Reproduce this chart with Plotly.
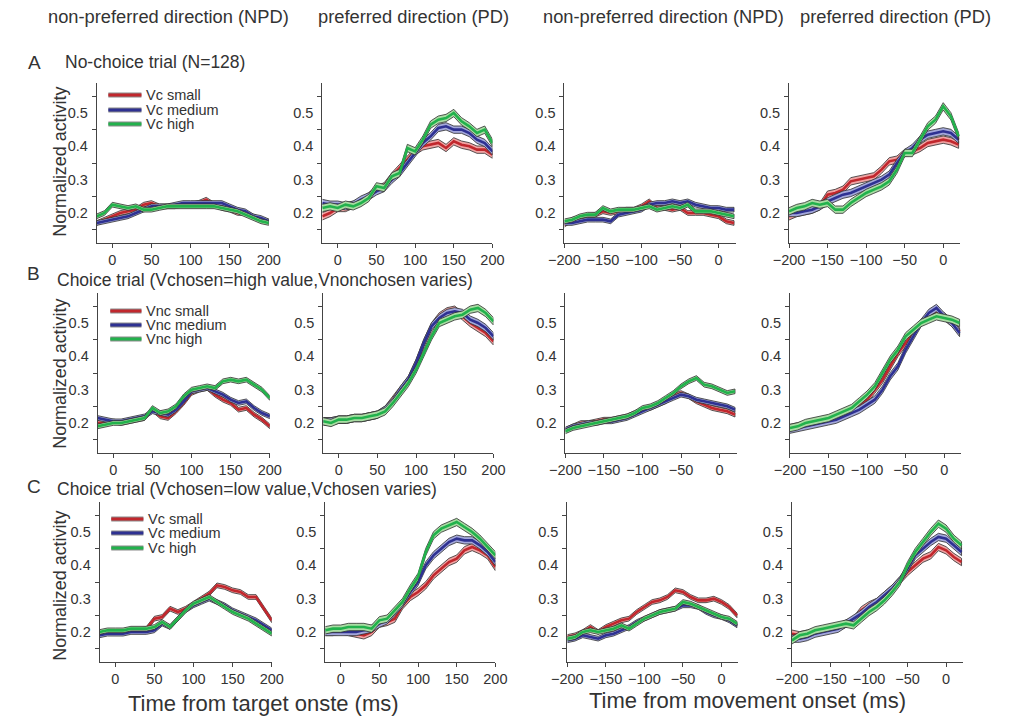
import plotly.graph_objects as go

W, H = 1013, 721

# ---- time axes (ms) ----
t_target = [-20, -10, 0, 10, 20, 30, 40, 50, 60, 70, 80, 90, 100,
            110, 120, 130, 140, 150, 160, 170, 180, 190, 200]
t_move = [-200, -190, -180, -170, -160, -150, -140, -130, -120, -110, -100,
          -90, -80, -70, -60, -50, -40, -30, -20, -10, 0, 10, 20]

x_ticks_target = [0, 50, 100, 150, 200]
x_ticks_move = [-200, -150, -100, -50, 0]
y_ticks = [0.2, 0.3, 0.4, 0.5]
y_ticks_minor = [0.15, 0.25, 0.35, 0.45, 0.55]

# ---- A: no-choice trials ----
A_tgt_npd_small = [0.17, 0.18, 0.19, 0.2, 0.205, 0.21, 0.225, 0.23, 0.22, 0.22, 0.22, 0.225,
                   0.225, 0.23, 0.24, 0.225, 0.215, 0.21, 0.2, 0.2, 0.19, 0.18, 0.175]
A_tgt_npd_medium = [0.17, 0.175, 0.18, 0.185, 0.19, 0.2, 0.21, 0.22, 0.22, 0.22, 0.225, 0.23,
                    0.23, 0.23, 0.23, 0.23, 0.23, 0.22, 0.21, 0.205, 0.19, 0.185, 0.175]
A_tgt_npd_high = [0.19, 0.2, 0.225, 0.22, 0.215, 0.22, 0.21, 0.21, 0.215, 0.22, 0.22, 0.22,
                  0.22, 0.22, 0.22, 0.22, 0.215, 0.21, 0.205, 0.195, 0.185, 0.175, 0.17]

A_tgt_pd_small = [0.19, 0.2, 0.215, 0.215, 0.225, 0.235, 0.25, 0.27, 0.28, 0.31, 0.335, 0.36,
                  0.385, 0.4, 0.405, 0.41, 0.395, 0.415, 0.405, 0.4, 0.39, 0.39, 0.375]
A_tgt_pd_medium = [0.23, 0.225, 0.225, 0.22, 0.225, 0.24, 0.25, 0.265, 0.275, 0.3, 0.32, 0.35,
                   0.38, 0.41, 0.43, 0.455, 0.46, 0.45, 0.45, 0.44, 0.42, 0.41, 0.385]
A_tgt_pd_high = [0.215, 0.22, 0.215, 0.225, 0.22, 0.23, 0.245, 0.28, 0.275, 0.31, 0.32, 0.395,
                 0.385, 0.42, 0.465, 0.48, 0.485, 0.5, 0.475, 0.46, 0.44, 0.45, 0.41]

A_mov_npd_small = [0.165, 0.18, 0.185, 0.19, 0.195, 0.205, 0.2, 0.205, 0.21, 0.21, 0.22, 0.235,
                   0.215, 0.215, 0.21, 0.215, 0.2, 0.2, 0.2, 0.195, 0.19, 0.175, 0.17]
A_mov_npd_medium = [0.17, 0.17, 0.175, 0.18, 0.18, 0.18, 0.175, 0.195, 0.2, 0.205, 0.21, 0.225,
                    0.23, 0.23, 0.235, 0.23, 0.235, 0.225, 0.22, 0.215, 0.215, 0.21, 0.21]
A_mov_npd_high = [0.175, 0.18, 0.19, 0.195, 0.195, 0.215, 0.205, 0.21, 0.21, 0.21, 0.215, 0.22,
                  0.21, 0.215, 0.22, 0.215, 0.225, 0.205, 0.205, 0.205, 0.2, 0.195, 0.19]

A_mov_pd_small = [0.19, 0.2, 0.205, 0.21, 0.22, 0.255, 0.26, 0.27, 0.295, 0.3, 0.305, 0.31,
                  0.33, 0.355, 0.36, 0.38, 0.385, 0.395, 0.41, 0.415, 0.42, 0.415, 0.405]
A_mov_pd_medium = [0.2, 0.2, 0.205, 0.21, 0.22, 0.235, 0.245, 0.255, 0.26, 0.27, 0.28, 0.29,
                   0.3, 0.315, 0.35, 0.38, 0.395, 0.42, 0.435, 0.44, 0.445, 0.44, 0.42]
A_mov_pd_high = [0.205, 0.215, 0.22, 0.23, 0.225, 0.23, 0.21, 0.21, 0.23, 0.245, 0.26, 0.27,
                 0.28, 0.295, 0.33, 0.38, 0.38, 0.42, 0.46, 0.48, 0.52, 0.49, 0.43]

# ---- B: choice trials, chosen value high ----
B_tgt_npd_small = [0.2, 0.2, 0.205, 0.2, 0.205, 0.21, 0.215, 0.24, 0.22, 0.215, 0.235, 0.26,
                   0.29, 0.3, 0.305, 0.285, 0.27, 0.26, 0.24, 0.245, 0.225, 0.21, 0.19]
B_tgt_npd_medium = [0.215, 0.21, 0.205, 0.205, 0.21, 0.215, 0.22, 0.235, 0.23, 0.225, 0.24, 0.265,
                    0.295, 0.3, 0.305, 0.295, 0.285, 0.27, 0.26, 0.265, 0.245, 0.23, 0.22]
B_tgt_npd_high = [0.19, 0.195, 0.2, 0.2, 0.205, 0.21, 0.215, 0.245, 0.23, 0.235, 0.25, 0.28,
                  0.3, 0.305, 0.31, 0.305, 0.325, 0.33, 0.325, 0.33, 0.315, 0.3, 0.275]

B_tgt_pd_small = [0.205, 0.205, 0.21, 0.21, 0.215, 0.215, 0.22, 0.225, 0.24, 0.27, 0.3, 0.33,
                  0.38, 0.44, 0.49, 0.52, 0.535, 0.54, 0.52, 0.5, 0.485, 0.47, 0.445]
B_tgt_pd_medium = [0.205, 0.205, 0.21, 0.21, 0.215, 0.215, 0.22, 0.225, 0.24, 0.265, 0.3, 0.33,
                   0.38, 0.44, 0.49, 0.515, 0.53, 0.535, 0.53, 0.51, 0.5, 0.485, 0.46]
B_tgt_pd_high = [0.205, 0.2, 0.21, 0.21, 0.215, 0.215, 0.22, 0.225, 0.235, 0.26, 0.29, 0.32,
                 0.36, 0.41, 0.46, 0.5, 0.51, 0.52, 0.525, 0.54, 0.545, 0.53, 0.505]

B_mov_npd_small = [0.18, 0.19, 0.2, 0.2, 0.205, 0.21, 0.21, 0.215, 0.22, 0.23, 0.24, 0.245,
                   0.255, 0.265, 0.28, 0.29, 0.28, 0.265, 0.255, 0.245, 0.24, 0.235, 0.225]
B_mov_npd_medium = [0.18, 0.19, 0.195, 0.2, 0.2, 0.205, 0.205, 0.21, 0.215, 0.225, 0.235, 0.245,
                    0.255, 0.265, 0.275, 0.285, 0.28, 0.27, 0.265, 0.26, 0.255, 0.25, 0.24]
B_mov_npd_high = [0.175, 0.185, 0.19, 0.195, 0.2, 0.205, 0.21, 0.215, 0.22, 0.23, 0.245, 0.25,
                  0.26, 0.275, 0.29, 0.31, 0.325, 0.335, 0.315, 0.31, 0.3, 0.29, 0.295]

B_mov_pd_small = [0.185, 0.19, 0.195, 0.2, 0.205, 0.21, 0.22, 0.23, 0.24, 0.255, 0.27, 0.3,
                  0.33, 0.37, 0.41, 0.44, 0.47, 0.5, 0.52, 0.53, 0.52, 0.5, 0.475]
B_mov_pd_medium = [0.18, 0.185, 0.19, 0.195, 0.2, 0.205, 0.21, 0.22, 0.23, 0.24, 0.255, 0.27,
                   0.3, 0.34, 0.37, 0.42, 0.46, 0.5, 0.53, 0.545, 0.52, 0.5, 0.47]
B_mov_pd_high = [0.185, 0.19, 0.2, 0.205, 0.21, 0.215, 0.225, 0.235, 0.245, 0.265, 0.285, 0.31,
                 0.35, 0.39, 0.42, 0.46, 0.48, 0.5, 0.51, 0.52, 0.515, 0.51, 0.5]

# ---- C: choice trials, chosen value low ----
C_tgt_npd_small = [0.195, 0.2, 0.2, 0.2, 0.205, 0.205, 0.21, 0.24, 0.245, 0.27, 0.26, 0.27,
                   0.285, 0.3, 0.315, 0.34, 0.335, 0.325, 0.32, 0.305, 0.305, 0.27, 0.235]
C_tgt_npd_medium = [0.19, 0.195, 0.195, 0.195, 0.2, 0.2, 0.2, 0.205, 0.225, 0.215, 0.24, 0.265,
                    0.28, 0.29, 0.3, 0.29, 0.28, 0.265, 0.255, 0.245, 0.235, 0.22, 0.205]
C_tgt_npd_high = [0.2, 0.205, 0.205, 0.205, 0.21, 0.21, 0.21, 0.215, 0.23, 0.215, 0.24, 0.265,
                  0.285, 0.295, 0.305, 0.29, 0.275, 0.26, 0.25, 0.24, 0.225, 0.21, 0.195]

C_tgt_pd_small = [0.2, 0.2, 0.205, 0.2, 0.195, 0.19, 0.2, 0.225, 0.23, 0.24, 0.28, 0.305,
                  0.32, 0.34, 0.37, 0.39, 0.41, 0.42, 0.445, 0.455, 0.445, 0.43, 0.395]
C_tgt_pd_medium = [0.2, 0.2, 0.2, 0.2, 0.2, 0.205, 0.21, 0.225, 0.235, 0.26, 0.285, 0.32,
                   0.35, 0.4, 0.43, 0.45, 0.47, 0.48, 0.475, 0.475, 0.46, 0.44, 0.41]
C_tgt_pd_high = [0.205, 0.21, 0.21, 0.215, 0.215, 0.215, 0.21, 0.235, 0.24, 0.265, 0.29, 0.33,
                 0.365, 0.44, 0.49, 0.51, 0.52, 0.53, 0.515, 0.5, 0.48, 0.455, 0.43]

C_mov_npd_small = [0.185, 0.19, 0.2, 0.215, 0.2, 0.215, 0.225, 0.235, 0.24, 0.26, 0.275, 0.29,
                   0.295, 0.305, 0.325, 0.32, 0.305, 0.295, 0.295, 0.3, 0.29, 0.275, 0.25]
C_mov_npd_medium = [0.175, 0.18, 0.19, 0.185, 0.18, 0.19, 0.195, 0.205, 0.215, 0.23, 0.24, 0.25,
                    0.26, 0.265, 0.27, 0.28, 0.28, 0.275, 0.26, 0.25, 0.245, 0.235, 0.22]
C_mov_npd_high = [0.18, 0.185, 0.2, 0.205, 0.2, 0.205, 0.21, 0.22, 0.21, 0.225, 0.24, 0.25,
                  0.26, 0.265, 0.27, 0.29, 0.285, 0.275, 0.265, 0.255, 0.245, 0.24, 0.225]

C_mov_pd_small = [0.195, 0.19, 0.195, 0.2, 0.205, 0.21, 0.215, 0.225, 0.235, 0.265, 0.28, 0.29,
                  0.31, 0.33, 0.355, 0.38, 0.4, 0.42, 0.43, 0.455, 0.445, 0.425, 0.41]
C_mov_pd_medium = [0.18, 0.18, 0.185, 0.195, 0.2, 0.205, 0.21, 0.225, 0.24, 0.255, 0.275, 0.29,
                   0.31, 0.33, 0.355, 0.39, 0.43, 0.45, 0.47, 0.485, 0.48, 0.46, 0.44]
C_mov_pd_high = [0.175, 0.19, 0.195, 0.205, 0.21, 0.215, 0.22, 0.225, 0.22, 0.24, 0.26, 0.275,
                 0.295, 0.32, 0.35, 0.4, 0.44, 0.47, 0.5, 0.525, 0.51, 0.48, 0.46]

# standard error (half-width of the shaded band) for small / medium / high
sem_npd = [0.007, 0.007, 0.007]
sem_pd = [0.011, 0.011, 0.011]

legend_A = ["Vc small", "Vc medium", "Vc high"]
legend_B = ["Vnc small", "Vnc medium", "Vnc high"]
legend_C = ["Vc small", "Vc medium", "Vc high"]

# ---- styling ----
FONT = "Liberation Sans, Arial, sans-serif"
TXT = "#333333"
AXC = "#444444"
line_colors = ["#c1272d", "#2e3192", "#22b24c"]
band_colors = ["#f0a3a3", "#a3a7da", "#a9dca3"]
edge_color = "#2f2f2f"

# panel frames in pixels
col_left = [83, 315, 564, 795]
col_right = [260, 490, 740, 971]
row_top = [83, 293, 502]
row_bottom = [243, 453, 662]
row_shift = [0, 1, 3]

panels = [
    (0, 0, t_target, [A_tgt_npd_small, A_tgt_npd_medium, A_tgt_npd_high], sem_npd),
    (0, 1, t_target, [A_tgt_pd_small, A_tgt_pd_medium, A_tgt_pd_high], sem_pd),
    (0, 2, t_move, [A_mov_npd_small, A_mov_npd_medium, A_mov_npd_high], sem_npd),
    (0, 3, t_move, [A_mov_pd_small, A_mov_pd_medium, A_mov_pd_high], sem_pd),
    (1, 0, t_target, [B_tgt_npd_small, B_tgt_npd_medium, B_tgt_npd_high], sem_npd),
    (1, 1, t_target, [B_tgt_pd_small, B_tgt_pd_medium, B_tgt_pd_high], sem_pd),
    (1, 2, t_move, [B_mov_npd_small, B_mov_npd_medium, B_mov_npd_high], sem_npd),
    (1, 3, t_move, [B_mov_pd_small, B_mov_pd_medium, B_mov_pd_high], sem_pd),
    (2, 0, t_target, [C_tgt_npd_small, C_tgt_npd_medium, C_tgt_npd_high], sem_npd),
    (2, 1, t_target, [C_tgt_pd_small, C_tgt_pd_medium, C_tgt_pd_high], sem_pd),
    (2, 2, t_move, [C_mov_npd_small, C_mov_npd_medium, C_mov_npd_high], sem_npd),
    (2, 3, t_move, [C_mov_pd_small, C_mov_pd_medium, C_mov_pd_high], sem_pd),
]

fig = go.Figure()
layout_axes = {}

for k, (r, c, t, series, sems) in enumerate(panels, start=1):
    xs = "x" if k == 1 else f"x{k}"
    ys = "y" if k == 1 else f"y{k}"
    for vals, sem, lc, bc in zip(series, sems, line_colors, band_colors):
        upper = [v + sem for v in vals]
        lower = [v - sem for v in vals]
        fig.add_trace(go.Scatter(
            x=t + t[::-1], y=upper + lower[::-1], xaxis=xs, yaxis=ys,
            fill="toself", fillcolor=bc, mode="lines",
            line=dict(color=edge_color, width=0.8),
            hoverinfo="skip", showlegend=False))
        fig.add_trace(go.Scatter(
            x=t, y=vals, xaxis=xs, yaxis=ys, mode="lines",
            line=dict(color=lc, width=2.6), showlegend=False))

    left = col_left[c] + row_shift[r]
    right = col_right[c] + row_shift[r]
    is_target = c < 2
    xname = "xaxis" if k == 1 else f"xaxis{k}"
    yname = "yaxis" if k == 1 else f"yaxis{k}"
    layout_axes[xname] = dict(
        domain=[left / W, right / W],
        range=[-20, 200] if is_target else [-200, 22],
        anchor=ys, showline=True, linecolor=AXC, linewidth=1,
        ticks="outside", ticklen=4, tickcolor=AXC,
        tickvals=x_ticks_target if is_target else x_ticks_move,
        tickfont=dict(family=FONT, size=14.5, color=TXT),
        showgrid=False, zeroline=False)
    layout_axes[yname] = dict(
        domain=[1 - row_bottom[r] / H, 1 - row_top[r] / H],
        range=[0.11, 0.59], anchor=xs, showline=True, linecolor=AXC, linewidth=1,
        ticks="", tickvals=y_ticks, ticktext=[f"{v:.1f}" for v in y_ticks],
        ticklabelstandoff=5,
        minor=dict(tickvals=y_ticks_minor, ticks="outside", ticklen=4, tickcolor=AXC),
        tickfont=dict(family=FONT, size=14.5, color=TXT),
        showgrid=False, zeroline=False)

annotations = []
shapes = []


def px_text(x, y, text, size, xanchor="center", angle=0):
    annotations.append(dict(
        x=x / W, y=1 - y / H, xref="paper", yref="paper", text=text,
        showarrow=False, xanchor=xanchor, yanchor="middle", textangle=angle,
        borderpad=0, font=dict(family=FONT, size=size, color=TXT)))


# column headers
px_text(157, 17, "non-preferred direction (NPD)", 18.3)
px_text(409, 17, "preferred direction (PD)", 18.3)
px_text(666, 17, "non-preferred direction (NPD)", 18.3)
px_text(905, 17, "preferred direction (PD)", 18.3)

# row labels and titles
px_text(11, 63, "A", 19, "left")
px_text(49, 62, "No-choice trial (N=128)", 17.5, "left")
px_text(10, 273, "B", 19, "left")
px_text(41, 280, "Choice trial (Vchosen=high value,Vnonchosen varies)", 17.5, "left")
px_text(10, 486, "C", 19, "left")
px_text(41, 489, "Choice trial (Vchosen=low value,Vchosen varies)", 17.5, "left")

# y titles
for yc in [162, 374, 586]:
    px_text(45, yc, "Normalized activity", 17.9, angle=-90)

# x titles
px_text(255, 703, "Time from target onste (ms)", 22)
px_text(752, 700, "Time from movement onset (ms)", 22)

# in-panel legends
legend_rows = [(legend_A, [95, 110, 124], 95, 129, 133),
               (legend_B, [311, 325, 339], 97, 129, 133),
               (legend_C, [519, 533, 548], 98, 131, 135)]
for labels, ys_px, x0, x1, xt in legend_rows:
    for lab, yp, lc in zip(labels, ys_px, line_colors):
        shapes.append(dict(type="line", xref="paper", yref="paper",
                           x0=x0 / W, x1=x1 / W, y0=1 - yp / H, y1=1 - yp / H,
                           line=dict(color="#8a8a8a", width=5)))
        shapes.append(dict(type="line", xref="paper", yref="paper",
                           x0=x0 / W, x1=x1 / W, y0=1 - yp / H, y1=1 - yp / H,
                           line=dict(color=lc, width=3)))
        px_text(xt, yp, lab, 14.5, "left")

fig.update_layout(
    width=W, height=H, margin=dict(l=0, r=0, t=0, b=0),
    paper_bgcolor="white", plot_bgcolor="white",
    showlegend=False, annotations=annotations, shapes=shapes,
    **layout_axes)

fig.write_html("out.html")
